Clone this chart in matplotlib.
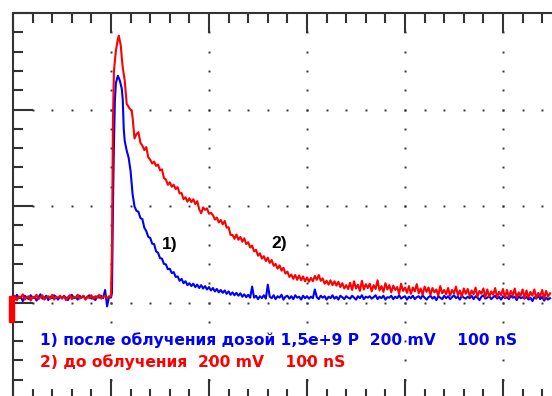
import numpy as np
import matplotlib
matplotlib.use('Agg')
import matplotlib.pyplot as plt
from matplotlib.patches import Rectangle

plt.rcParams['font.family'] = ['DejaVu Sans']

# ---- data (time in ns, voltage in mV; 100 nS/div, 200 mV/div) ----
pre_t = np.arange(-100, 0, 2)
red_pre = [8, 14, 5, 12, 10, 17, 6, 11, 13, 4, 12, 9, 16, 7, 11, 15, 6, 10, 13, 8, 16, 6, 12, 10, 14,
           9, 13, 5, 11, 15, 7, 12, 10, 16, 8, 11, 14, 6, 12, 9, 15, 7, 13, 10, 16, 8, 12, 14, 9, 13]
blue_pre = [12, 6, 16, 9, 11, 3, 14, 10, 7, 15, 9, 12, 4, 11, 17, 8, 10, 14, 5, 12, 9, 15, 11, 6, 13,
            8, 14, 10, 5, 12, 16, 9, 11, 6, 14, 10, 13, 7, 12, 15, 8, 11, 5, 13, 10, 14, 9, 26, -8, 12]

red_edge_t = [0, 1, 2, 3, 5, 7, 8, 9, 10, 11, 12, 14, 16, 19, 21, 22]
red_edge_v = [12, 115, 377, 480, 522, 546, 553, 542, 532, 507, 487, 460, 412, 402, 398, 384]
blue_edge_t = [0, 1, 2, 3, 4, 5, 7, 9, 11, 12, 13, 14, 16, 18, 20, 22]
blue_edge_v = [10, 20, 200, 330, 420, 455, 470, 460, 443, 420, 360, 335, 315, 300, 272, 225]

tail_t = np.arange(24, 450, 2)
red_tail = [340, 349, 353, 331, 325, 316, 322, 301, 296, 288,
            292, 283, 286, 274, 276, 258, 255, 244, 249, 240,
            244, 235, 239, 226, 227, 214, 218, 209, 216, 208,
            214, 204, 210, 193, 185, 197, 192, 195, 184, 186,
            181, 172, 176, 166, 171, 162, 169, 155, 156, 140,
            140, 132, 141, 130, 136, 126, 133, 121, 125, 114,
            118, 106, 109, 97, 102, 91, 96, 86, 93, 82,
            88, 76, 80, 70, 77, 66, 72, 60, 64, 53,
            58, 49, 57, 47, 56, 46, 54, 44, 52, 43,
            51, 44, 55, 47, 57, 45, 50, 39, 45, 37,
            46, 36, 44, 35, 43, 32, 40, 29, 36, 28,
            41, 26, 44, 29, 37, 24, 45, 27, 38, 30,
            39, 23, 36, 28, 46, 25, 34, 22, 40, 27,
            36, 21, 35, 26, 32, 18, 39, 24, 31, 20,
            34, 18, 31, 23, 38, 19, 29, 16, 33, 22,
            31, 16, 30, 21, 27, 14, 34, 19, 26, 17,
            30, 14, 26, 19, 33, 15, 25, 12, 29, 18,
            28, 13, 25, 17, 31, 12, 24, 18, 29, 11,
            27, 12, 23, 16, 30, 11, 22, 15, 28, 10,
            26, 11, 24, 15, 29, 10, 21, 14, 27, 9,
            25, 10, 22, 14, 27, 9, 20, 13, 26, 8,
            24, 12, 19]
blue_tail = [199, 190, 188, 175, 173, 155, 148, 136, 134, 122,
             121, 106, 103, 92, 91, 80, 79, 69, 70, 61,
             63, 53, 54, 45, 49, 40, 44, 36, 40, 34,
             39, 32, 37, 30, 36, 29, 34, 27, 32, 25,
             30, 23, 28, 21, 26, 20, 25, 18, 23, 16,
             21, 15, 20, 14, 19, 12, 17, 11, 16, 10,
             33, 10, 14, 7, 13, 9, 15, 8, 37, 12,
             9, 15, 7, 13, 10, 16, 6, 12, 14, 8,
             13, 7, 15, 10, 12, 6, 14, 9, 13, 8,
             12, 9, 27, 11, 7, 14, 10, 13, 6, 12,
             9, 15, 8, 12, 6, 14, 11, 7, 13, 10,
             8, 14, 10, 6, 13, 9, 15, 7, 12, 10,
             13, 8, 11, 15, 7, 12, 9, 14, 6, 11,
             10, 14, 7, 12, 9, 15, 8, 11, 13, 6,
             12, 9, 14, 7, 11, 13, 8, 15, 10, 6,
             11, 14, 8, 12, 5, 13, 10, 7, 14, 9,
             13, 7, 11, 15, 9, 12, 6, 14, 10, 8,
             12, 9, 14, 7, 13, 10, 5, 12, 15, 8,
             10, 13, 7, 11, 14, 8, 12, 6, 13, 9,
             11, 7, 14, 10, 12, 5, 13, 9, 11, 8,
             12, 6, 10, 3, 11, 8, 14, 7, 12, 4,
             10, 6, 9]

label1 = '1) после облучения дозой 1,5e+9 P  200 mV    100 nS'
label2 = '2) до облучения  200 mV    100 nS'

red_t = np.concatenate([pre_t, red_edge_t, tail_t])
red_v = np.concatenate([red_pre, red_edge_v, red_tail])
blue_t = np.concatenate([pre_t, blue_edge_t, tail_t])
blue_v = np.concatenate([blue_pre, blue_edge_v, blue_tail])

# ---- figure: scope screen, right/bottom part cut off ----
fig = plt.figure(figsize=(5.52, 3.96), dpi=100)
ax = fig.add_axes([13 / 552, -3 / 396, 588 / 552, 386 / 396])
ax.set_xlim(-100, 500)
ax.set_ylim(-200, 600)

# dotted graticule
for xg in range(0, 500, 100):
    yy = np.arange(-160, 600, 40)
    ax.plot(np.full(len(yy), xg), yy, ls='none', marker='s', ms=1.4,
            mec='none', mfc='#333333', zorder=1)
for yg in range(0, 600, 200):
    xx = np.arange(-80, 500, 20)
    ax.plot(xx, np.full(len(xx), yg), ls='none', marker='s', ms=1.4,
            mec='none', mfc='#333333', zorder=1)

ax.plot(blue_t, blue_v, color='#0000ff', lw=1.5, zorder=3)
ax.plot(red_t, red_v, color='#ff0000', lw=1.5, zorder=4)

# ground marker
ax.add_patch(Rectangle((-104, -41), 5, 55, color='#ff0000', clip_on=False, zorder=5))

ax.text(-72, -89, label1, color='#0000ff', fontsize=11.2, fontweight='bold', va='baseline')
ax.text(-72, -134, label2, color='#ff0000', fontsize=11.2, fontweight='bold', va='baseline')
ax.text(52, 111, '1)', color='black', fontsize=12.5, fontweight='bold', va='baseline',
        family='Liberation Sans')
ax.text(164, 113, '2)', color='black', fontsize=12.5, fontweight='bold', va='baseline',
        family='Liberation Sans')

ax.set_xticks(np.arange(-100, 501, 100))
ax.set_xticks(np.arange(-100, 501, 20), minor=True)
ax.set_yticks(np.arange(-200, 601, 200))
ax.set_yticks(np.arange(-200, 601, 40), minor=True)
ax.tick_params(which='both', direction='in', top=True, right=True,
               labelbottom=False, labelleft=False, color='#333333', width=1.5)
ax.tick_params(which='major', length=14.4)
ax.tick_params(which='minor', length=7.2)
for s in ax.spines.values():
    s.set_color('#333333')
    s.set_linewidth(1.5)

fig.savefig('out.png', dpi=100)
